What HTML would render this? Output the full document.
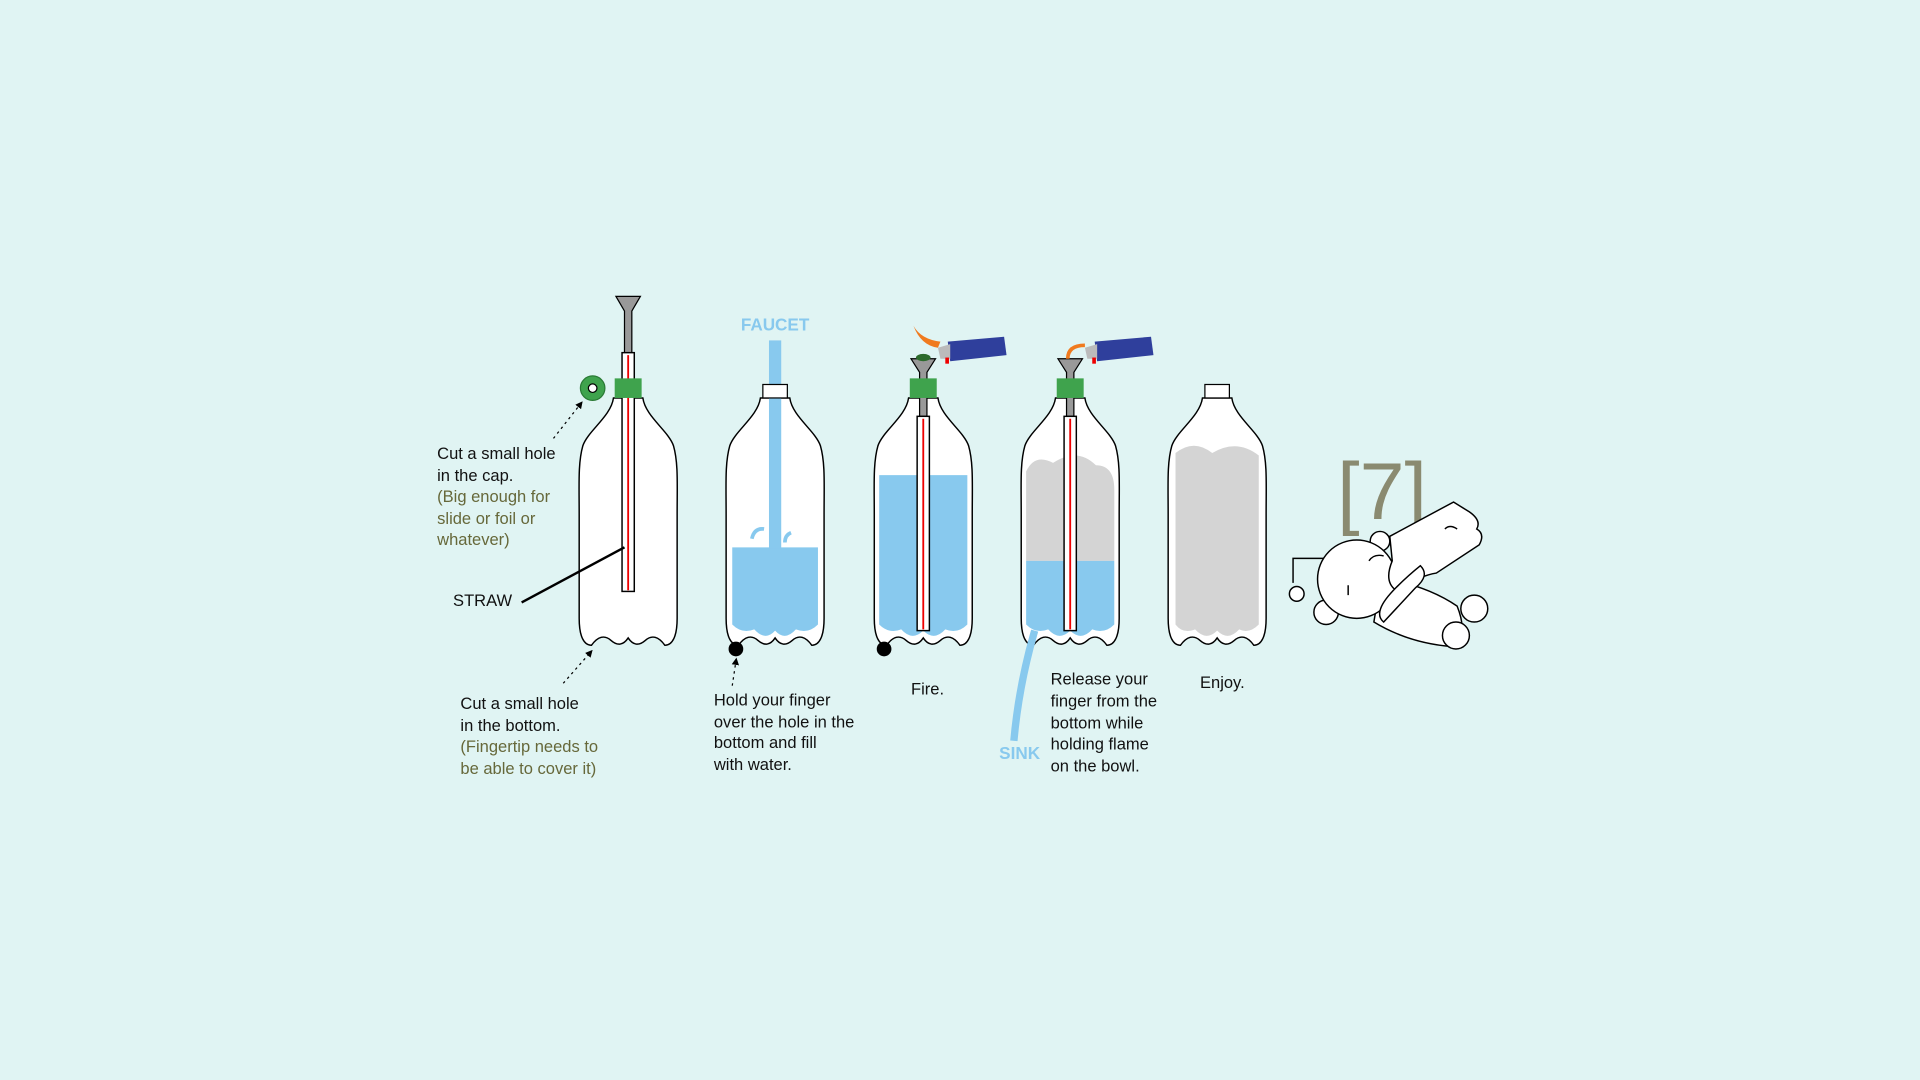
<!DOCTYPE html>
<html><head><meta charset="utf-8"><style>
html,body{margin:0;padding:0;background:#e0f4f3;width:1920px;height:1080px;overflow:hidden}
svg{display:block}
text{font-family:"Liberation Sans",sans-serif}
</style></head><body>
<svg width="1920" height="1080" viewBox="0 0 1568 882" xmlns="http://www.w3.org/2000/svg">
<defs>
<path id="bottle" d="M -12,325 C -14,340 -33,352 -37,364 C -41,378 -40,395 -40,420 L -40,505 C -40,520 -36,527 -30,527 Q -22,516 -14,523 Q -6,530 0,521 Q 6,530 14,523 Q 22,516 30,527 C 36,527 40,520 40,505 L 40,420 C 40,395 41,378 37,364 C 33,352 14,340 12,325 Z"/>
<marker id="arr" markerWidth="6" markerHeight="6" refX="3" refY="3" orient="auto"><path d="M0,0 L6,3 L0,6 Z" fill="#000"/></marker>
</defs>
<rect width="1568" height="882" fill="#e0f4f3"/>

<g>
<use href="#bottle" x="513" y="0" fill="#fff" stroke="#000" stroke-width="1.2"/>
<path d="M503,242 L523,242 L516,254 L516,288 L510,288 L510,254 Z" fill="#999" stroke="#000" stroke-width="1"/>
<rect x="508" y="288" width="10" height="195" fill="#fff" stroke="#000" stroke-width="1.2"/>
<line x1="513" y1="290" x2="513" y2="482" stroke="#e00" stroke-width="1.5"/>
<rect x="502" y="309" width="22" height="16" fill="#3fa34d"/>
<circle cx="484" cy="317" r="10" fill="#3fa34d" stroke="#2a7a35"/>
<circle cx="484" cy="317" r="3.5" fill="#fff" stroke="#000" stroke-width="1"/>
<line x1="452" y1="358" x2="474" y2="330" stroke="#000" stroke-dasharray="2,3" marker-end="url(#arr)"/>
<line x1="426" y1="492" x2="510" y2="447" stroke="#000" stroke-width="2"/>
<line x1="460" y1="558" x2="482" y2="533" stroke="#000" stroke-dasharray="2,3" marker-end="url(#arr)"/>
<text x="357" y="375" font-size="13.5" fill="#111">Cut a small hole</text>
<text x="357" y="393" font-size="13.5" fill="#111">in the cap.</text>
<text x="357" y="410" font-size="13.5" fill="#66683a">(Big enough for</text>
<text x="357" y="428" font-size="13.5" fill="#66683a">slide or foil or</text>
<text x="357" y="445" font-size="13.5" fill="#66683a">whatever)</text>
<text x="370" y="495" font-size="13.5" fill="#111">STRAW</text>
<text x="376" y="579" font-size="13.5" fill="#111">Cut a small hole</text>
<text x="376" y="597" font-size="13.5" fill="#111">in the bottom.</text>
<text x="376" y="614" font-size="13.5" fill="#66683a">(Fingertip needs to</text>
<text x="376" y="632" font-size="13.5" fill="#66683a">be able to cover it)</text>
</g>

<g>
<use href="#bottle" x="633" y="0" fill="#fff" stroke="#000" stroke-width="1.2"/>
<path d="M598,447 L668,447 L668,510 Q660,518 650,514 Q641,524 633,515 Q625,524 616,514 Q606,518 598,510 Z" fill="#88c9ee"/>
<rect x="628" y="278" width="10" height="170" fill="#88c9ee"/>
<rect x="623" y="314" width="20" height="11" fill="#fff" stroke="#000"/>
<path d="M614,440 q2,-9 10,-8 M641,443 q0,-6 5,-8" stroke="#88c9ee" stroke-width="3" fill="none"/>
<circle cx="601" cy="530" r="6" fill="#000"/>
<line x1="598" y1="560" x2="601" y2="540" stroke="#000" stroke-dasharray="2,3" marker-end="url(#arr)"/>
<text x="605" y="270" font-size="14" font-weight="bold" fill="#88c9ee">FAUCET</text>
<text x="583" y="576" font-size="13.5" fill="#111">Hold your finger</text>
<text x="583" y="594" font-size="13.5" fill="#111">over the hole in the</text>
<text x="583" y="611" font-size="13.5" fill="#111">bottom and fill</text>
<text x="583" y="629" font-size="13.5" fill="#111">with water.</text>
</g>

<g>
<use href="#bottle" x="754" y="0" fill="#fff" stroke="#000" stroke-width="1.2"/>
<path d="M718,388 L790,388 L790,510 Q782,518 772,514 Q763,524 754,515 Q745,524 736,514 Q726,518 718,510 Z" fill="#88c9ee"/>
<path d="M744,293 L764,293 L757,304 L757,340 L751,340 L751,304 Z" fill="#999" stroke="#000"/>
<rect x="749" y="340" width="10" height="175" fill="#fff" stroke="#000" stroke-width="1.2"/>
<line x1="754" y1="342" x2="754" y2="514" stroke="#e00" stroke-width="1.5"/>
<rect x="743" y="309" width="22" height="16" fill="#3fa34d"/>
<ellipse cx="754" cy="292" rx="6" ry="3" fill="#2c6b2c"/>
<circle cx="722" cy="530" r="6" fill="#000"/>
<g>
<path d="M774,279 L820,275 L822,290 L776,295 Z" fill="#2f3f9c"/>
<path d="M766,284 L776,281 L776,293 L768,293 Z" fill="#bbb"/>
<path d="M772,292 L775,292 L775,297 L772,297 Z" fill="#e00"/>
<path d="M766,284 Q752,282 746,266 Q752,277 768,279 Z" fill="#f07a1e"/>
</g>
<text x="744" y="567" font-size="13.5" fill="#111">Fire.</text>
</g>

<g>
<use href="#bottle" x="874" y="0" fill="#fff" stroke="#000" stroke-width="1.2"/>
<path d="M838,385 Q845,370 860,378 Q880,365 895,380 Q910,380 910,400 L910,458 L838,458 Z" fill="#d4d4d4"/>
<path d="M838,458 L910,458 L910,510 Q902,518 892,514 Q883,524 874,515 Q865,524 856,514 Q846,518 838,510 Z" fill="#88c9ee"/>
<path d="M845,515 Q832,560 828,605" stroke="#88c9ee" stroke-width="6" fill="none"/>
<path d="M864,293 L884,293 L877,304 L877,340 L871,340 L871,304 Z" fill="#999" stroke="#000"/>
<rect x="869" y="340" width="10" height="175" fill="#fff" stroke="#000" stroke-width="1.2"/>
<line x1="874" y1="342" x2="874" y2="514" stroke="#e00" stroke-width="1.5"/>
<rect x="863" y="309" width="22" height="16" fill="#3fa34d"/>
<path d="M894,279 L940,275 L942,290 L896,295 Z" fill="#2f3f9c"/>
<path d="M886,284 L896,281 L896,293 L888,293 Z" fill="#bbb"/>
<path d="M892,292 L895,292 L895,297 L892,297 Z" fill="#e00"/>
<path d="M872,293 Q872,282 886,282" stroke="#f07a1e" stroke-width="3" fill="none"/>
<text x="816" y="620" font-size="14" font-weight="bold" fill="#88c9ee">SINK</text>
<text x="858" y="559" font-size="13.5" fill="#111">Release your</text>
<text x="858" y="577" font-size="13.5" fill="#111">finger from the</text>
<text x="858" y="595" font-size="13.5" fill="#111">bottom while</text>
<text x="858" y="612" font-size="13.5" fill="#111">holding flame</text>
<text x="858" y="630" font-size="13.5" fill="#111">on the bowl.</text>
</g>

<g>
<use href="#bottle" x="994" y="0" fill="#fff" stroke="#000" stroke-width="1.2"/>
<path d="M960,370 Q975,358 990,370 Q1010,358 1028,372 L1028,510 Q1020,518 1012,514 Q1003,524 994,515 Q985,524 976,514 Q966,518 960,510 Z" fill="#d4d4d4"/>
<rect x="984" y="314" width="20" height="11" fill="#fff" stroke="#000"/>
<text x="980" y="562" font-size="13.5" fill="#111">Enjoy.</text>
</g>

<g fill="#fff" stroke="#000" stroke-width="1.2">
<text x="1092" y="424" font-size="66" fill="#8a8a70" stroke="none">[7]</text>
<polyline points="1056,476 1056,456 1086,456" fill="none"/>
<circle cx="1059" cy="485" r="6"/>
<circle cx="1127" cy="442" r="8"/>
<circle cx="1083" cy="500" r="10"/>
<path d="M1128,472 Q1165,478 1190,495 Q1200,520 1185,528 Q1150,525 1122,508 Z"/>
<circle cx="1204" cy="497" r="11"/>
<circle cx="1189" cy="519" r="11"/>
<circle cx="1108" cy="473" r="32"/>
<path d="M1135,438 L1187,410 Q1195,415 1200,418 Q1210,425 1206,432 Q1213,436 1208,445 L1173,468 Q1160,470 1140,482 Q1130,475 1137,458 Z"/>
<path d="M1140,480 Q1150,470 1160,462 Q1168,470 1156,480 L1130,508 Q1120,500 1140,480 Z"/>
<path d="M1118,458 q4,-6 12,-4 M1101,478 l0,8 M1180,432 q4,-4 10,0" fill="none"/>
</g>
</svg>
</body></html>
